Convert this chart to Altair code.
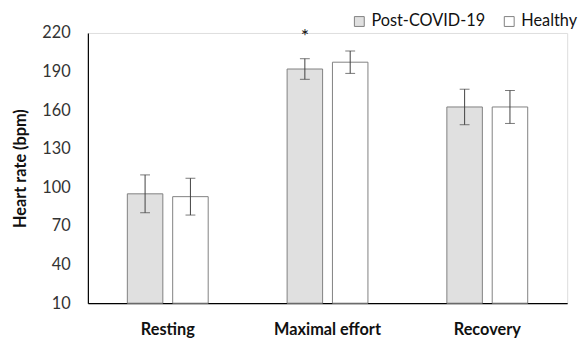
import altair as alt
import pandas as pd

categories = ["Resting", "Maximal effort", "Recovery"]
groups = ["Post-COVID-19", "Healthy"]
post_mean = [95, 192, 162.5]
post_err = [14.7, 8, 13.8]
healthy_mean = [92.8, 197.3, 162.5]
healthy_err = [14.3, 8.7, 12.8]
star_category = "Maximal effort"
star_group = "Post-COVID-19"
star_y = 212
y_ticks = [10, 40, 70, 100, 130, 160, 190, 220]

rows = []
for i, c in enumerate(categories):
    rows.append({"cat": c, "group": groups[0], "mean": post_mean[i],
                 "lo": post_mean[i] - post_err[i], "hi": post_mean[i] + post_err[i]})
    rows.append({"cat": c, "group": groups[1], "mean": healthy_mean[i],
                 "lo": healthy_mean[i] - healthy_err[i], "hi": healthy_mean[i] + healthy_err[i]})
df = pd.DataFrame(rows)
star_df = pd.DataFrame([{"cat": star_category, "group": star_group, "y": star_y, "t": "*"}])

FONT = "Lato"

x_axis = alt.Axis(labelFont=FONT, labelFontSize=16.5, labelFontWeight="bold",
                  labelColor="#111", labelAngle=0, ticks=False, tickSize=0,
                  labelPadding=19, domainColor="#000", domainWidth=1.2)
y_axis = alt.Axis(values=y_ticks, grid=False, labelOverlap=False,
                  ticks=False, tickSize=0, labelPadding=18,
                  labelFont=FONT, labelFontSize=16.5, labelColor="#333",
                  titleFont=FONT, titleFontSize=16.5, titleFontWeight="bold",
                  titleColor="#111", titlePadding=14,
                  domainColor="#000", domainWidth=1.2)
x_scale = alt.Scale(paddingInner=0, paddingOuter=0)
xo_scale = alt.Scale(domain=groups, paddingInner=0.217, paddingOuter=0.87)
y_scale = alt.Scale(domain=[10, 220], nice=False, zero=False)
Y_TITLE = "Heart rate (bpm)"


def xe():
    return alt.X("cat:N", sort=categories, title=None, scale=x_scale, axis=x_axis)


def xoe():
    return alt.XOffset("group:N", sort=groups, scale=xo_scale)


def ye(field):
    return alt.Y(field, type="quantitative", scale=y_scale, title=Y_TITLE, axis=y_axis)


bars = alt.Chart(df).mark_bar(stroke="#808080", strokeWidth=1).encode(
    x=xe(), xOffset=xoe(), y=ye("mean"), y2=alt.datum(10),
    fill=alt.Fill("group:N", sort=groups,
                  scale=alt.Scale(domain=groups, range=["#e0e0e0", "#ffffff"]),
                  legend=alt.Legend(title=None, orient="none", direction="horizontal",
                                    legendX=267, legendY=-20, symbolType="square",
                                    symbolSize=100, symbolStrokeColor="#808080",
                                    symbolStrokeWidth=1, labelFont=FONT, labelFontSize=16.5,
                                    labelColor="#111", labelOffset=4, columnPadding=16)),
)

rules = alt.Chart(df).mark_rule(color="#404040", strokeWidth=1).encode(
    x=xe(), xOffset=xoe(), y=ye("lo"), y2="hi:Q")

cap_lo = alt.Chart(df).mark_tick(color="#404040", thickness=1, size=10).encode(
    x=xe(), xOffset=xoe(), y=ye("lo"))
cap_hi = alt.Chart(df).mark_tick(color="#404040", thickness=1, size=10).encode(
    x=xe(), xOffset=xoe(), y=ye("hi"))

star = alt.Chart(star_df).mark_text(font=FONT, fontSize=20, color="#111", baseline="alphabetic").encode(
    x=xe(), xOffset=xoe(), y=ye("y"), text="t:N")

chart = alt.layer(bars, rules, cap_lo, cap_hi, star).properties(
    width=486, height=274,
    autosize=alt.AutoSizeParams(type="none"),
    padding={"left": 81, "top": 23, "right": 12, "bottom": 36},
).configure_view(strokeWidth=0).configure_axis(labelOverlap=False).configure(background="white")

chart.save("out.html", embed_options={"renderer": "svg", "actions": False})
